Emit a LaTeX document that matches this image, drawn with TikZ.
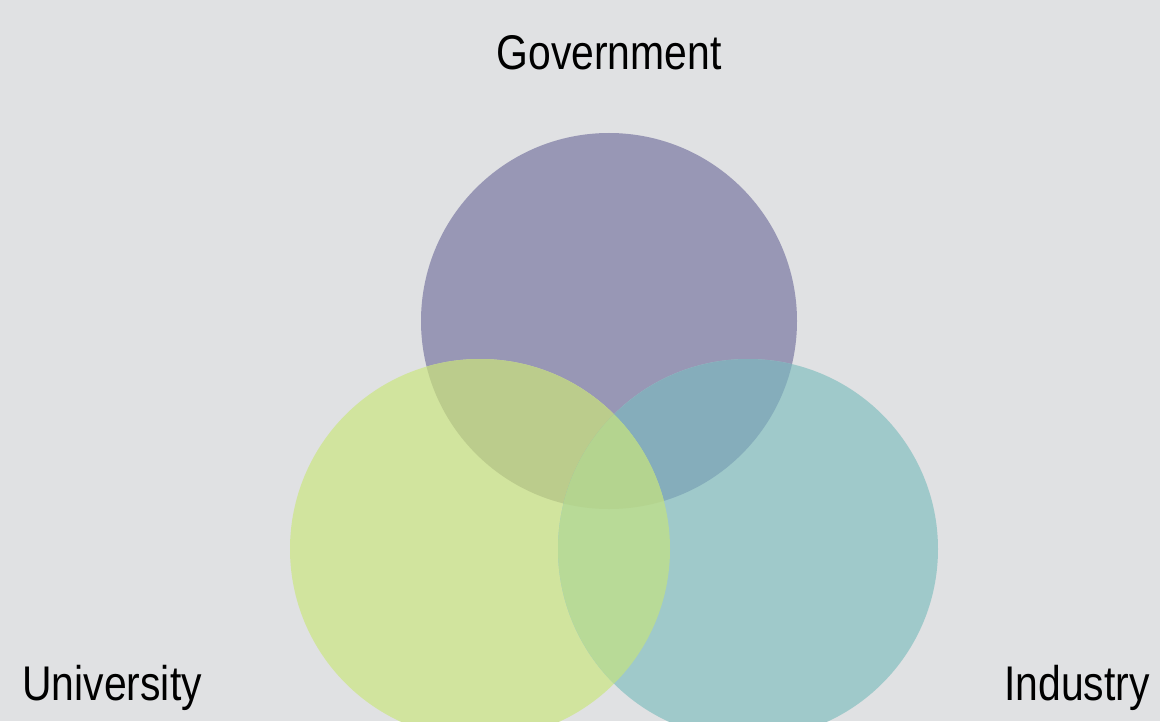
\documentclass[tikz,border=0pt]{standalone}
\usepackage{fontspec}
\setmainfont[FakeStretch=0.84]{Liberation Sans}

\definecolor{sfondo}{HTML}{E0E1E3}
\definecolor{viola}{HTML}{9897B5}
\definecolor{verde}{HTML}{D1E49E}
\definecolor{azzurro}{HTML}{9FC9CA}
\definecolor{violaverde}{HTML}{BBCC8C}
\definecolor{violaazzurro}{HTML}{85ADBB}
\definecolor{verdeazzurro}{HTML}{B8DA97}
\definecolor{centro}{HTML}{B4D48F}

\begin{document}
\begin{tikzpicture}[
		cerchio/.style={draw=none},
		etichetta/.style={font=\fontsize{27.7}{30}\selectfont, inner sep=0pt, text=black},
		]
		
		\def\r{3.8}
		\def\rg{3.76}
		
		\useasboundingbox (0,0) rectangle (23.2,14.42);
		\clip (0,0) rectangle (23.2,14.42);
		\fill[sfondo](0,0) rectangle (23.2,14.42);
		
		\coordinate (gov) at (12.18,8.0);
		\coordinate (uni) at (9.6,3.44);
		\coordinate (ind) at (14.96,3.44);
		
		%% ── cerchi ────────────────────────────────────────────
		\fill[cerchio,viola](gov)circle(\rg);
		\fill[cerchio,verde](uni)circle(\r);
		\fill[cerchio,azzurro](ind)circle(\r);
		
		%% ── intersezioni ──────────────────────────────────────
		\begin{scope}
			\clip(gov)circle(\rg);
			\fill[cerchio,violaverde](uni)circle(\r);
			\fill[cerchio,violaazzurro](ind)circle(\r);
		\end{scope}
		\begin{scope}
			\clip(uni)circle(\r);
			\fill[cerchio,verdeazzurro](ind)circle(\r);
		\end{scope}
		\begin{scope}
			\clip(gov)circle(\rg);
			\clip(uni)circle(\r);
			\fill[cerchio,centro](ind)circle(\r);
		\end{scope}
		
		%% ── etichette ─────────────────────────────────────────
		\node[etichetta,anchor=base](lgov)at(12.18,13.02){Government};
		\node[etichetta,anchor=base west](luni)at(0.44,0.42){University};
		\node[etichetta,anchor=base west](lind)at(20.08,0.42){Industry};
		
\end{tikzpicture}
\end{document}
